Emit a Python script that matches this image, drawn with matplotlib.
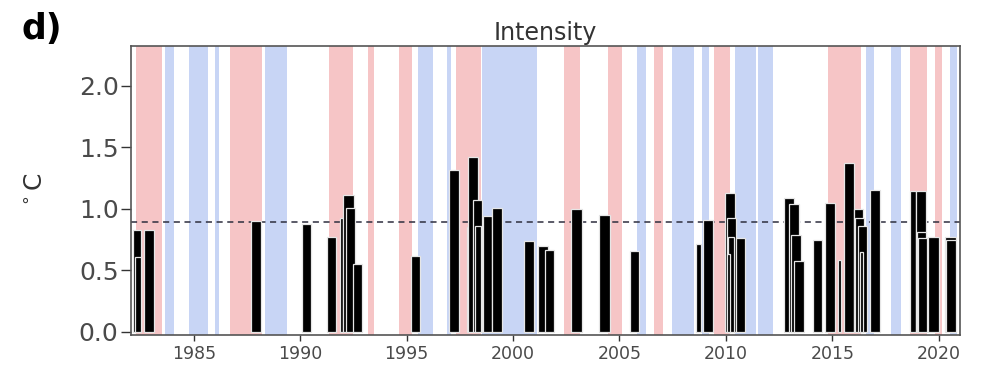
from matplotlib import pyplot as plt

# event start (year), duration (years), intensity (deg C)
starts = [1982.14, 1982.22, 1982.66, 1987.67, 1990.09, 1991.25, 1991.87, 1992.03, 1992.15, 1992.47,
          1995.20, 1997.01, 1997.84, 1997.87, 1998.10, 1998.20, 1998.57, 1999.00, 2000.50, 2001.19,
          2001.50, 2002.72, 2004.02, 2005.51, 2008.60, 2008.94, 2009.98, 2010.05, 2010.10, 2010.05,
          2010.47, 2012.74, 2012.97, 2013.08, 2013.20, 2014.07, 2014.64, 2015.27, 2015.55, 2016.00,
          2016.07, 2016.20, 2016.28, 2016.77, 2018.65, 2018.92, 2018.97, 2019.02, 2019.49, 2020.29,
          2020.33]
durations = [0.39, 0.31, 0.46, 0.47, 0.42, 0.41, 0.15, 0.48, 0.43, 0.42,
             0.45, 0.44, 0.12, 0.50, 0.42, 0.30, 0.43, 0.46, 0.50, 0.44,
             0.44, 0.50, 0.52, 0.43, 0.23, 0.46, 0.43, 0.43, 0.30, 0.12,
             0.43, 0.47, 0.47, 0.47, 0.48, 0.43, 0.47, 0.16, 0.47, 0.42,
             0.40, 0.45, 0.15, 0.47, 0.27, 0.47, 0.45, 0.42, 0.50, 0.52,
             0.48]
intensity = [0.83, 0.61, 0.83, 0.90, 0.875, 0.775, 0.93, 1.11, 1.01, 0.55,
             0.62, 1.32, 0.85, 1.42, 1.07, 0.86, 0.94, 1.01, 0.74, 0.70,
             0.67, 1.00, 0.95, 0.66, 0.715, 0.91, 1.13, 0.93, 0.77, 0.63,
             0.76, 1.09, 1.04, 0.79, 0.58, 0.75, 1.05, 0.585, 1.37, 1.00,
             0.925, 0.86, 0.65, 1.155, 1.15, 1.15, 0.815, 0.76, 0.775, 0.775,
             0.745]

# El Nino (red) and La Nina (blue) periods
nino = [(1982.30, 1983.50), (1986.70, 1988.18), (1991.36, 1992.46), (1993.19, 1993.47),
        (1994.64, 1995.23), (1997.31, 1998.51), (2002.40, 2003.14), (2004.45, 2005.11),
        (2006.62, 2007.03), (2009.43, 2010.19), (2014.78, 2016.33), (2018.65, 2019.45),
        (2019.81, 2020.16)]
nina = [(1983.66, 1984.07), (1984.77, 1985.66), (1986.00, 1986.16), (1988.34, 1989.39),
        (1995.54, 1996.24), (1996.90, 1997.06), (1998.56, 2001.11), (2005.80, 2006.23),
        (2007.49, 2008.48), (2008.87, 2009.22), (2010.42, 2011.42), (2011.49, 2012.20),
        (2016.58, 2016.94), (2017.75, 2018.24), (2020.53, 2020.87)]

threshold = 0.89

fig = plt.figure(figsize=(9.89, 3.72), dpi=100)
ax = fig.add_axes([0.1325, 0.0995, 0.8382, 0.7768])

for a, b in nino:
    ax.axvspan(a, b, color='#f6c5c6', lw=0, zorder=0)
for a, b in nina:
    ax.axvspan(a, b, color='#c8d5f5', lw=0, zorder=0)

ax.axhline(threshold, color='#2e2e3e', lw=1.1, ls=(0, (4, 3)), zorder=1)

ax.bar(starts, intensity, width=durations, align='edge', color='black',
       edgecolor='#e6e6e6', linewidth=0.9, zorder=2)

ax.set_xlim(1982.05, 2021.0)
ax.set_ylim(-0.025, 2.325)
ax.set_xticks([1985, 1990, 1995, 2000, 2005, 2010, 2015, 2020])
ax.set_yticks([0.0, 0.5, 1.0, 1.5, 2.0])
ax.set_yticklabels(['0.0', '0.5', '1.0', '1.5', '2.0'])
ax.tick_params(axis='y', labelsize=18, labelcolor='#4a4a4a', color='#333333', length=7, width=1, pad=2)
ax.tick_params(axis='x', labelsize=12.5, labelcolor='#4a4a4a', color='#333333', length=4, width=1)
for s in ax.spines.values():
    s.set_color('#555555')
    s.set_linewidth(1.2)

ax.set_ylabel(r'$^\circ$C', fontsize=18, color='#333333', labelpad=22)
ax.set_title('Intensity', fontsize=17, color='#333333', pad=4)
fig.text(0.022, 0.895, 'd)', fontsize=25, fontweight='bold', color='black')

fig.savefig('out.png', dpi=100)
